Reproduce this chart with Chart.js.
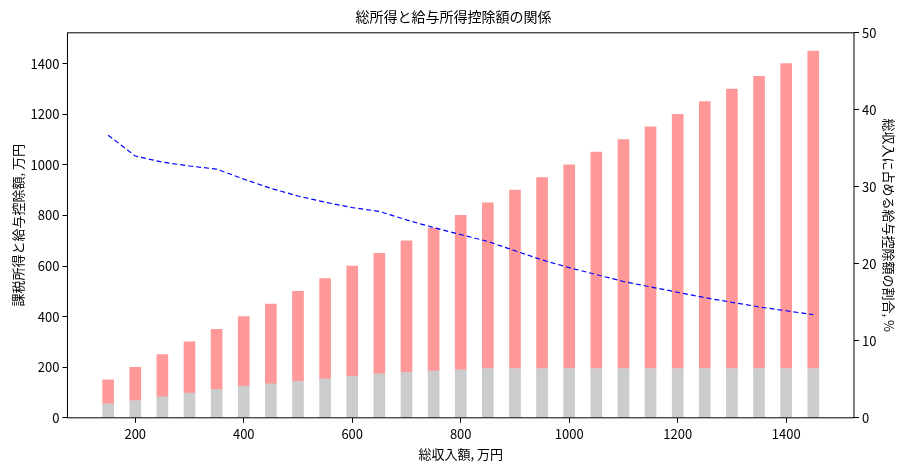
<!DOCTYPE html>
<html>
<head>
<meta charset="utf-8">
<script src="https://cdn.jsdelivr.net/npm/chart.js@4/dist/chart.umd.min.js"></script>
<style>
  body { margin: 0; background: #fff; }
  #wrap { width: 905px; height: 468px; }
</style>
</head>
<body>
<div id="wrap"><canvas id="c" width="905" height="468"></canvas></div>
<script>
const income = [150, 200, 250, 300, 350, 400, 450, 500, 550, 600, 650, 700, 750, 800, 850, 900, 950, 1000, 1050, 1100, 1150, 1200, 1250, 1300, 1350, 1400, 1450];
const deduction = [55, 68, 83, 98, 113, 124, 134, 144, 154, 164, 174, 180, 185, 190, 195, 195, 195, 195, 195, 195, 195, 195, 195, 195, 195, 195, 195];
const netIncome = [95, 132, 167, 202, 237, 276, 316, 356, 396, 436, 476, 520, 565, 610, 655, 705, 755, 805, 855, 905, 955, 1005, 1055, 1105, 1155, 1205, 1255];
const ratio = [36.7, 34.0, 33.2, 32.7, 32.3, 31.0, 29.8, 28.8, 28.0, 27.3, 26.8, 25.7, 24.7, 23.8, 22.9, 21.7, 20.5, 19.5, 18.6, 17.7, 17.0, 16.3, 15.6, 15.0, 14.4, 13.9, 13.4];
const xTicks = [200, 400, 600, 800, 1000, 1200, 1400];
const yTicks = [0, 200, 400, 600, 800, 1000, 1200, 1400];

Chart.defaults.font = { family: "'Noto Sans CJK JP', 'DejaVu Sans', sans-serif", size: 13 };
Chart.defaults.color = '#000';

const frame = {
    id: 'frame',
    afterDraw(chart) {
        const a = chart.chartArea, ctx = chart.ctx;
        ctx.save();
        ctx.strokeStyle = '#000';
        ctx.lineWidth = 1;
        ctx.strokeRect(a.left, a.top, a.right - a.left, a.bottom - a.top);
        ctx.restore();
    }
};

const tickGrid = { drawOnChartArea: false, color: '#000', tickLength: 5, tickColor: '#000', offset: false };

new Chart(document.getElementById('c').getContext('2d'), {
    type: 'bar',
    data: {
        datasets: [
            {
                type: 'line',
                data: income.map((x, i) => ({ x: x, y: ratio[i] })),
                yAxisID: 'y2',
                borderColor: '#0000ff',
                borderWidth: 1.2,
                borderDash: [5, 3],
                pointRadius: 0,
                fill: false,
                order: 0
            },
            {
                data: income.map((x, i) => ({ x: x, y: deduction[i] })),
                backgroundColor: '#cccccc',
                barThickness: 11,
                stack: 's',
                order: 1
            },
            {
                data: income.map((x, i) => ({ x: x, y: netIncome[i] })),
                backgroundColor: '#ff9999',
                barThickness: 11,
                stack: 's',
                order: 1
            }
        ]
    },
    options: {
        responsive: false,
        animation: false,
        layout: { padding: { left: 8, right: 6, top: 4, bottom: 4 } },
        plugins: {
            legend: { display: false },
            tooltip: { enabled: false },
            title: { display: true, text: '総所得と給与所得控除額の関係', font: { size: 14, weight: 'normal' }, padding: { top: 4, bottom: 8 } }
        },
        scales: {
            x: {
                type: 'linear', min: 75, max: 1525, stacked: true, offset: false,
                grid: tickGrid, border: { display: false },
                ticks: { callback: v => String(v) },
                afterBuildTicks: s => { s.ticks = xTicks.map(v => ({ value: v })); },
                title: { display: true, text: '総収入額, 万円', padding: 2 }
            },
            y: {
                min: 0, max: 1522, stacked: true,
                grid: tickGrid, border: { display: false },
                ticks: { callback: v => String(v) },
                afterBuildTicks: s => { s.ticks = yTicks.map(v => ({ value: v })); },
                title: { display: true, text: '課税所得と給与控除額, 万円', padding: 2 }
            },
            y2: {
                position: 'right', min: 0, max: 50,
                grid: tickGrid, border: { display: false },
                ticks: { stepSize: 10 },
                title: { display: true, text: '総収入に占める給与控除額の割合, %', padding: 2 }
            }
        }
    },
    plugins: [frame]
});
</script>
</body>
</html>
